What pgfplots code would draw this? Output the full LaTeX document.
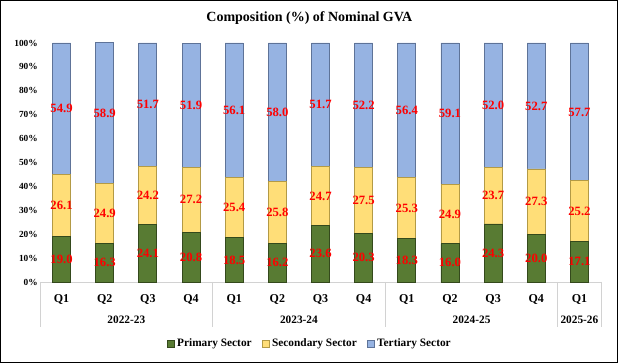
\documentclass[border=0pt]{standalone}
\usepackage{pgfplots}
\usepackage{pgfplotstable}
\pgfplotsset{compat=1.18}
\usepackage{fontspec}
\setmainfont{Liberation Serif}
\definecolor{prim}{HTML}{587B33}
\definecolor{primd}{HTML}{34491C}
\definecolor{sec}{HTML}{FFDE78}
\definecolor{secd}{HTML}{B39A45}
\definecolor{ter}{HTML}{96B3E2}
\definecolor{terd}{HTML}{5E7398}
\pgfplotstableread{
X P S T
0 19.0 26.1 54.9
1 16.3 24.9 58.9
2 24.1 24.2 51.7
3 20.8 27.2 51.9
4 18.5 25.4 56.1
5 16.2 25.8 58.0
6 23.6 24.7 51.7
7 20.3 27.5 52.2
8 18.3 25.3 56.4
9 16.0 24.9 59.1
10 24.3 23.7 52.0
11 20.0 27.3 52.7
12 17.1 25.2 57.7
}\data
\pgfplotsset{myax/.style={scale only axis, width=420.75pt, height=179.25pt,
  at={(30pt,60.75pt)}, anchor=south west, xmin=-0.5, xmax=12.5, ymin=0, ymax=100}}
\begin{document}
\begin{tikzpicture}[x=1pt,y=1pt]
\useasboundingbox (0,0) rectangle (463.5,272.25);
\draw[black, line width=1pt] (0.5,0.5) rectangle (463,271.75);
\node[font=\bfseries\fontsize{10.5}{13}\selectfont] at (232,259) {Composition (\%) of Nominal GVA};
\begin{axis}[myax, ybar stacked, bar width=13.5pt, clip=false,
  axis x line*=bottom, axis y line*=left,
  x axis line style={draw=gray!35, line width=0.6pt},
  y axis line style={draw=none},
  major tick length=0pt,
  xtick={0,...,12},
  xticklabels={Q1,Q2,Q3,Q4,Q1,Q2,Q3,Q4,Q1,Q2,Q3,Q4,Q1},
  xticklabel style={font=\bfseries\fontsize{9}{10}\selectfont, anchor=center, yshift=-13.5pt},
  ytick={0,10,...,100},
  yticklabel={\pgfmathprintnumber{\tick}\%},
  /pgf/number format/assume math mode=true,
  yticklabel style={font=\bfseries\fontsize{7}{8}\selectfont, anchor=east, inner sep=0pt, xshift=-1.5pt},
  legend columns=3,
  legend style={at={(0.482,-0.2594)}, anchor=center, draw=none, fill=none,
    font=\bfseries\fontsize{8.5}{10}\selectfont,
    /tikz/every even column/.append style={column sep=6pt}},
  legend image code/.code={\draw[#1, line width=0.3pt] (0pt,-2.5pt) rectangle (5pt,2.5pt);},
]
\addplot[fill=prim, draw=primd, line width=0.6pt] table[x=X,y=P]{\data};
\addplot[fill=sec, draw=secd, line width=0.6pt] table[x=X,y=S]{\data};
\addplot[fill=ter, draw=terd, line width=0.6pt] table[x=X,y=T]{\data};
\legend{Primary Sector, Secondary Sector, Tertiary Sector}
\pgfplotsinvokeforeach{-0.5,3.5,7.5,11.5,12.5}{
  \draw[gray!35, line width=0.6pt] (axis cs:#1,0) -- ++(0pt,-33.75pt);
}
\node[font=\bfseries\fontsize{8.5}{10}\selectfont] at (axis cs:1.5,0) [yshift=-28.5pt] {2022-23};
\node[font=\bfseries\fontsize{8.5}{10}\selectfont] at (axis cs:5.5,0) [yshift=-28.5pt] {2023-24};
\node[font=\bfseries\fontsize{8.5}{10}\selectfont] at (axis cs:9.5,0) [yshift=-28.5pt] {2024-25};
\node[font=\bfseries\fontsize{8.5}{10}\selectfont] at (axis cs:12,0) [yshift=-28.5pt] {2025-26};
\end{axis}
\begin{axis}[myax, hide axis]
\pgfplotsset{lbl/.style={draw=none, mark=none, nodes near coords, point meta=explicit symbolic,
  nodes near coords style={text=red, font=\bfseries\fontsize{9.5}{11}\selectfont, anchor=center, inner sep=0pt}}}
\addplot[lbl] table[x=X, y expr=\thisrow{P}/2, meta=P]{\data};
\addplot[lbl] table[x=X, y expr=\thisrow{P}+\thisrow{S}/2, meta=S]{\data};
\addplot[lbl] table[x=X, y expr=\thisrow{P}+\thisrow{S}+\thisrow{T}/2, meta=T]{\data};
\end{axis}
\end{tikzpicture}
\end{document}
